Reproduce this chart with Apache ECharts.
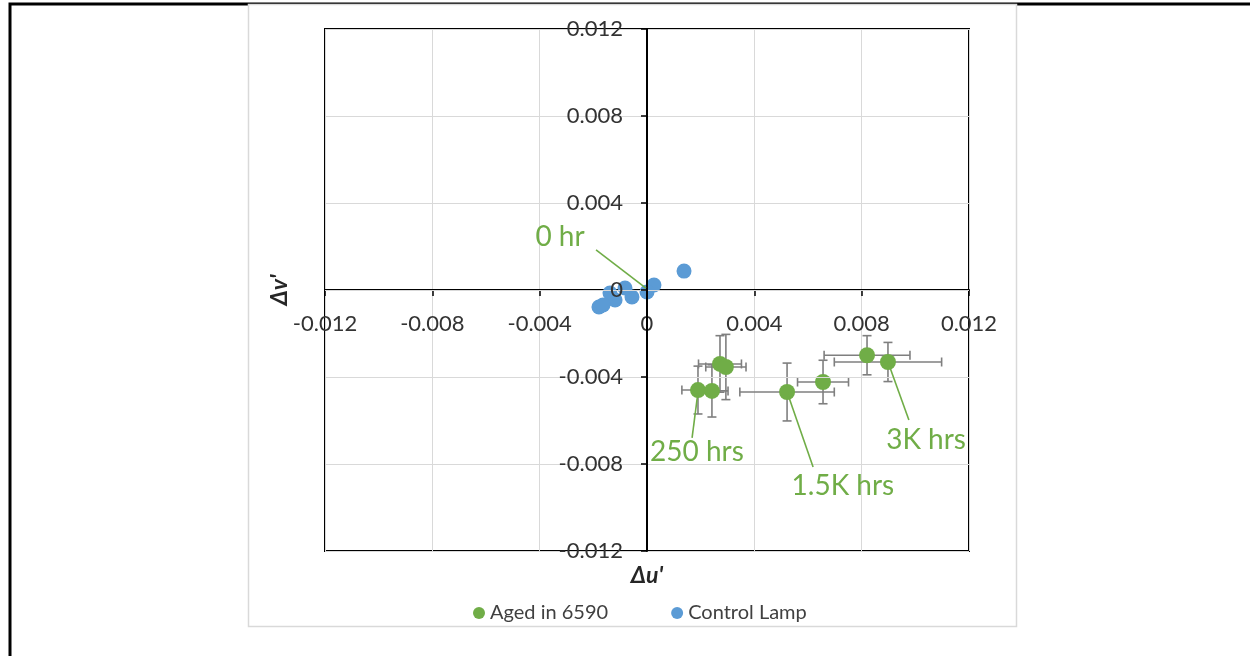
<!DOCTYPE html>
<html>
<head>
<meta charset="utf-8">
<script src="https://cdn.jsdelivr.net/npm/echarts@6/dist/echarts.min.js"></script>
<style>
html,body{margin:0;padding:0;background:#fff;}
#chart{width:1250px;height:656px;}
</style>
</head>
<body>
<div id="chart"></div>
<script>
// ---- data ----
const axisTicks = [-0.012, -0.008, -0.004, 0, 0.004, 0.008, 0.012];
// Aged in 6590: [du', dv', err du', err dv']
const agedU    = [0.00272, 0.00294, 0.00190, 0.00242, 0.00522, 0.00656, 0.00820, 0.00898];
const agedV    = [-0.00340, -0.00354, -0.00460, -0.00464, -0.00469, -0.00423, -0.00300, -0.00331];
const agedErrU = [0.00080, 0.00075, 0.00060, 0.00060, 0.00176, 0.00095, 0.00160, 0.00200];
const agedErrV = [0.00130, 0.00150, 0.00110, 0.00120, 0.00133, 0.00100, 0.00090, 0.00090];
// Control Lamp
const ctrlU = [0.00138, 0.00026, 0.00000, -0.00056, -0.00082, -0.00119, -0.00138, -0.00179, -0.00164];
const ctrlV = [0.00087, 0.00023, -0.00009, -0.00032, 0.00009, -0.00046, -0.00014, -0.00078, -0.00069];
// Annotations: text, text position, leader line from -> to (data units)
const noteText  = ['0 hr', '250 hrs', '1.5K hrs', '3K hrs'];
const noteU     = [-0.00324, 0.00186, 0.00730, 0.01040];
const noteV     = [0.00244, -0.00745, -0.00901, -0.00690];
const lineFromU = [-0.00190, 0.00168, 0.00619, 0.00976];
const lineFromV = [0.00184, -0.00680, -0.00814, -0.00598];
const lineToU   = [-0.00004, 0.00190, 0.00522, 0.00898];
const lineToV   = [0.00009, -0.00469, -0.00469, -0.00331];

const GREEN = '#70AD47', BLUE = '#5B9BD5', FONT = 'Lato';

const agedData = agedU.map((u, i) => [u, agedV[i], agedErrU[i], agedErrV[i]]);
const ctrlData = ctrlU.map((u, i) => [u, ctrlV[i]]);
const noteData = noteU.map((u, i) => [u, noteV[i], lineFromU[i], lineFromV[i], lineToU[i], lineToV[i]]);

// plot box (pixels) and the zero crossings derived from the axis range
const G = {left: 325, top: 29, width: 644, height: 522};
const xMin = axisTicks[0], xMax = axisTicks[axisTicks.length - 1];
const zeroX = G.left + (0 - xMin) / (xMax - xMin) * G.width;
const zeroY = G.top + (xMax - 0) / (xMax - xMin) * G.height;

const chart = echarts.init(document.getElementById('chart'));
const fmt = v => (v === 0 ? '0' : String(+v.toFixed(3)));

chart.setOption({
  animation: false,
  textStyle: {fontFamily: FONT},
  graphic: {elements: [
    {type: 'rect', z: -100, shape: {x: 10, y: 4, width: 1300, height: 700}, style: {fill: '#fff', stroke: '#000', lineWidth: 3}},
    {type: 'rect', z: -99, shape: {x: 248.5, y: 4.5, width: 768, height: 622}, style: {fill: '#fff', stroke: '#d9d9d9', lineWidth: 1.5}}
  ]},
  legend: {
    data: ['Aged in 6590', 'Control Lamp'],
    left: 468, top: 598,
    icon: 'circle', itemWidth: 12, itemHeight: 12, itemGap: 63,
    textStyle: {fontFamily: FONT, fontSize: 20, color: '#404040'}
  },
  grid: {left: G.left, top: G.top, width: G.width, height: G.height, containLabel: false, outerBoundsMode: 'none',
         show: true, borderColor: '#000', borderWidth: 2, backgroundColor: 'transparent'},
  xAxis: {
    type: 'value', min: xMin, max: xMax, interval: 0.004, position: 'bottom',
    offset: -(G.top + G.height - zeroY),
    axisLine: {onZero: false, lineStyle: {color: '#000', width: 2}},
    axisTick: {show: true, length: 6, lineStyle: {color: '#000', width: 1.5}},
    splitLine: {lineStyle: {color: '#d9d9d9', width: 1}},
    axisLabel: {margin: 23, fontSize: 22, color: '#333', fontFamily: FONT, formatter: fmt, showMinLabel: true, showMaxLabel: true},
    name: "Δu'", nameLocation: 'middle', nameGap: 274,
    nameTextStyle: {fontSize: 23, fontWeight: 'bold', fontStyle: 'italic', color: '#262626', fontFamily: FONT}
  },
  yAxis: {
    type: 'value', min: xMin, max: xMax, interval: 0.004, position: 'left', z: 5,
    offset: -(zeroX - G.left),
    axisLine: {onZero: false, lineStyle: {color: '#000', width: 2}},
    axisTick: {show: true, length: 6, lineStyle: {color: '#000', width: 1.5}},
    splitLine: {lineStyle: {color: '#d9d9d9', width: 1}},
    axisLabel: {margin: 24, fontSize: 22, color: '#333', fontFamily: FONT, formatter: fmt, showMinLabel: true, showMaxLabel: true},
    name: "Δv'", nameLocation: 'middle', nameGap: 356, nameRotate: 90,
    nameTextStyle: {fontSize: 23, fontWeight: 'bold', fontStyle: 'italic', color: '#262626', fontFamily: FONT}
  },
  series: [
    {
      name: 'Aged in 6590 errors', type: 'custom', z: 3, silent: true,
      data: agedData,
      renderItem: function (params, api) {
        const u = api.value(0), v = api.value(1), eu = api.value(2), ev = api.value(3);
        const l = api.coord([u - eu, v]), r = api.coord([u + eu, v]);
        const t = api.coord([u, v + ev]), b = api.coord([u, v - ev]);
        const cap = 4.5;
        const style = {stroke: '#7f7f7f', lineWidth: 1.6};
        const ln = (x1, y1, x2, y2) => ({type: 'line', shape: {x1, y1, x2, y2}, style});
        return {type: 'group', children: [
          ln(l[0], l[1], r[0], r[1]),
          ln(l[0], l[1] - cap, l[0], l[1] + cap),
          ln(r[0], r[1] - cap, r[0], r[1] + cap),
          ln(t[0], t[1], b[0], b[1]),
          ln(t[0] - cap, t[1], t[0] + cap, t[1]),
          ln(b[0] - cap, b[1], b[0] + cap, b[1])
        ]};
      }
    },
    {
      name: 'Aged in 6590', type: 'scatter', z: 4, symbolSize: 16,
      itemStyle: {color: GREEN, opacity: 1},
      data: agedData.map(d => [d[0], d[1]])
    },
    {
      name: 'Control Lamp', type: 'scatter', z: 4, symbolSize: 15,
      itemStyle: {color: BLUE, opacity: 1},
      data: ctrlData
    },
    {
      name: 'notes', type: 'custom', z: 6, silent: true,
      data: noteData,
      renderItem: function (params, api) {
        const p = api.coord([api.value(0), api.value(1)]);
        const a = api.coord([api.value(2), api.value(3)]);
        const b = api.coord([api.value(4), api.value(5)]);
        return {type: 'group', children: [
          {type: 'line', shape: {x1: a[0], y1: a[1], x2: b[0], y2: b[1]}, style: {stroke: GREEN, lineWidth: 1.6}},
          {type: 'text', x: p[0], y: p[1], style: {text: noteText[params.dataIndex], fill: GREEN, font: '28px ' + FONT, align: 'center', verticalAlign: 'middle'}}
        ]};
      }
    }
  ]
});
</script>
</body>
</html>
